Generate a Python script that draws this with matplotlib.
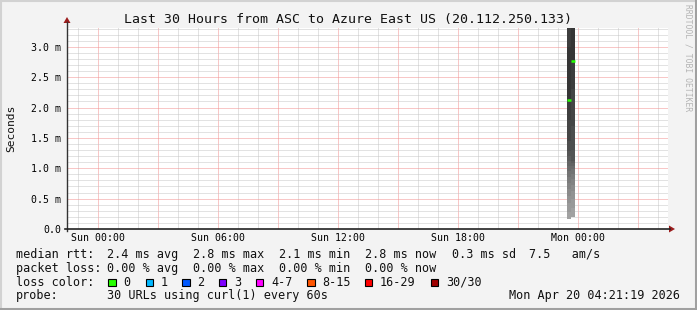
import numpy as np
import matplotlib
matplotlib.use('Agg')
import matplotlib.pyplot as plt
from matplotlib.patches import Rectangle, Polygon

# time axis in hours relative to Sun 00:00
hour_start = -1.55   # Sat 22:27
hour_end = 28.5
label_hours = [0, 6, 12, 18, 24]
label_text = ['Sun 00:00', 'Sun 06:00', 'Sun 12:00', 'Sun 18:00', 'Mon 00:00']
ytick_vals = [0.0, 0.5, 1.0, 1.5, 2.0, 2.5, 3.0]
ytick_text = ['0.0', '0.5 m', '1.0 m', '1.5 m', '2.0 m', '2.5 m', '3.0 m']
y_top = 3.31

# two measurement steps (ms), 30 sorted pings each
step_start = [23.45, 23.65]
step_len = 0.2
median_ms = [2.13, 2.77]
pings_ms = [
    [0.17, 0.28, 0.42, 0.55, 0.66, 0.76, 0.86, 0.95, 1.03, 1.12, 1.2, 1.28, 1.45, 1.8, 2.13,
     3.0, 3.5, 3.8, 4.0, 4.3, 4.6, 5.0, 5.5, 6.0, 7.0, 8.0, 9.5, 11.0, 13.0, 16.0],
    [0.2, 0.35, 0.5, 0.62, 0.72, 0.82, 0.9, 0.98, 1.04, 1.08, 1.12, 1.3, 1.7, 2.3, 2.77,
     3.5, 3.8, 4.1, 4.4, 4.8, 5.2, 5.7, 6.3, 7.0, 8.0, 9.0, 10.5, 12.0, 14.0, 18.0],
]

legend_rows = [
    ['median rtt:', '2.4 ms avg', '2.8 ms max', '2.1 ms min', '2.8 ms now', '0.3 ms sd', '7.5   am/s'],
    ['packet loss:', '0.00 % avg', '0.00 % max', '0.00 % min', '0.00 % now'],
]
loss_labels = ['0', '1', '2', '3', '4-7', '8-15', '16-29', '30/30']
loss_colors = ['#26ff00', '#00b8ff', '#0059ff', '#7e00ff', '#ff00ff', '#ff5500', '#ff0000', '#a00000']
probe_text = '30 URLs using curl(1) every 60s'
stamp_text = 'Mon Apr 20 04:21:19 2026'
title = 'Last 30 Hours from ASC to Azure East US (20.112.250.133)'

W, H = 697, 310
mono = 'DejaVu Sans Mono'
fig = plt.figure(figsize=(W / 100, H / 100), dpi=100)
fig.patch.set_facecolor('#f3f3f3')

# plot area in pixels
px0, px1, py0, py1 = 67, 668, 28, 229
ax = fig.add_axes([px0 / W, 1 - py1 / H, (px1 - px0) / W, (py1 - py0) / H])
ax.set_facecolor('white')
ax.set_xlim(hour_start, hour_end)
ax.set_ylim(0, y_top)
for s in ax.spines.values():
    s.set_visible(False)

dot = (0, (1, 1))
lw1 = 0.72
minor_c, major_c = '#c6c6c6', '#f39090'
# grid
h = np.ceil(hour_start)
while h < hour_end:
    major = (h % 3 == 0)
    ax.axvline(h, color=major_c if major else minor_c, lw=lw1, ls=dot, zorder=1,
               snap=True)
    h += 1
for k in range(1, int(y_top * 10) + 1):
    v = k / 10
    major = (k % 5 == 0)
    ax.axhline(v, color=major_c if major else minor_c, lw=lw1, ls=dot, zorder=1,
               snap=True)

# smoke
half = len(pings_ms[0]) // 2
for t0, p in zip(step_start, pings_ms):
    n = len(p)
    for ibot in range(1, half + 1):
        itop = n - ibot + 1
        c = int(115 / half * (half - ibot)) + 54
        col = '#%02x%02x%02x' % (c, c, c)
        lo, hi = p[ibot - 1], p[itop - 1]
        ax.bar(t0, hi - lo, bottom=lo, width=step_len, align='edge', color=col,
               linewidth=0, zorder=2)

# median
for t0, m in zip(step_start, median_ms):
    ax.hlines(m, t0, t0 + step_len, color=loss_colors[0], lw=1.8, zorder=3)

ax.set_xticks(label_hours)
ax.set_xticklabels(label_text, fontfamily=mono, fontsize=7.1)
ax.set_yticks(ytick_vals)
ax.set_yticklabels(ytick_text, fontfamily=mono, fontsize=7.1)
ax.tick_params(axis='x', length=0, pad=3)
ax.tick_params(axis='y', length=0, pad=4.3)

# overlay in pixel space for frame, axes, texts
ov = fig.add_axes([0, 0, 1, 1], zorder=5)
ov.set_xlim(0, W)
ov.set_ylim(H, 0)
ov.axis('off')
ov.patch.set_alpha(0)

ov.plot([0, W], [0.8, 0.8], color='#d2d2d2', lw=1.5)
ov.plot([0.8, 0.8], [0, H], color='#d2d2d2', lw=1.5)
ov.plot([0, W], [H - 1.5, H - 1.5], color='#a0a0a0', lw=2.2)
ov.plot([W - 1.5, W - 1.5], [0, H], color='#a0a0a0', lw=2.2)

ov.plot([px0, px0], [22, py1 + 2], color='#333333', lw=1.0)
ov.plot([px0 - 2, 670], [py1, py1], color='#222222', lw=1.2)
ov.add_patch(Polygon([[px0 - 3.5, 23], [px0 + 3.5, 23], [px0, 17]], closed=True,
                     color='#9b1c1c', lw=0))
ov.add_patch(Polygon([[669, py1 - 3.5], [669, py1 + 3.5], [675, py1]], closed=True,
                     color='#9b1c1c', lw=0))

ov.text(348, 19.5, title, fontfamily=mono, fontsize=9.55, ha='center', va='center',
        color='#111111')
ov.text(11, 128, 'Seconds', fontfamily=mono, fontsize=8.1, rotation=90,
        ha='center', va='center', color='#111111')
ov.text(688, 58, 'RRDTOOL / TOBI OETIKER', fontfamily=mono, fontsize=5.8, rotation=270,
        ha='center', va='center', color='#b4b4b4')

fs = 8.45
cols = [16, 107.3, 193.3, 279.3, 365, 451.7, 529]
rows_y = [254.3, 268.2, 282.3, 296]
for r, row in enumerate(legend_rows):
    for x, s in zip(cols, row):
        ov.text(x, rows_y[r], s, fontfamily=mono, fontsize=fs, ha='left', va='center',
                color='#111111')
ov.text(16, rows_y[2], 'loss color:', fontfamily=mono, fontsize=fs, ha='left',
        va='center', color='#111111')
box_x = [108.3, 145.7, 182.3, 219, 256, 307.3, 365, 430.7]
for x, lab, c in zip(box_x, loss_labels, loss_colors):
    ov.add_patch(Rectangle((x, rows_y[2] - 3.7), 7.4, 7.4, facecolor=c,
                           edgecolor='black', lw=0.8))
    ov.text(x + 15, rows_y[2], lab, fontfamily=mono, fontsize=fs, ha='left',
            va='center', color='#111111')
ov.text(16, rows_y[3], 'probe:', fontfamily=mono, fontsize=fs, ha='left', va='center',
        color='#111111')
ov.text(107.3, rows_y[3], probe_text, fontfamily=mono, fontsize=fs, ha='left',
        va='center', color='#111111')
ov.text(680, rows_y[3], stamp_text, fontfamily=mono, fontsize=fs, ha='right',
        va='center', color='#111111')

fig.savefig('out.png', dpi=100, facecolor=fig.get_facecolor())
